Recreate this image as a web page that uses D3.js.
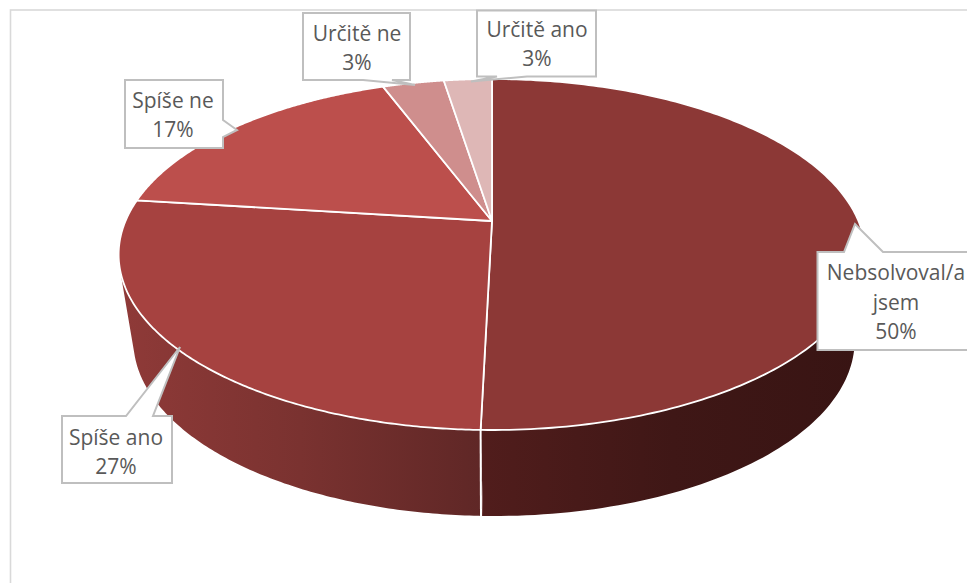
<!DOCTYPE html>
<html><head><meta charset="utf-8">
<script src="https://cdn.jsdelivr.net/npm/d3@7/dist/d3.min.js"></script>
<style>html,body{margin:0;padding:0;background:#fff;overflow:hidden}svg{display:block}</style>
</head><body>
<svg id="c" width="967" height="583"></svg>
<script>
const categories = ["Nebsolvoval/a jsem","Spíše ano","Spíše ne","Určitě ne","Určitě ano"];
const values = [50.4,26.6,17.3,3.2,2.5];
const topColors = ["#8C3836","#A64240","#BC4F4C","#CF8E8D","#DEB7B6"];
const wallStops = [["#511D1C","#3F1716","#381413"],["#8F3A38","#7A3230","#5F2726"],["#8F3A38","#8F3A38","#8F3A38"],["#999","#999","#999"],["#999","#999","#999"]];
const labelLines = [["Nebsolvoval/a","jsem"],["Spíše ano"],["Spíše ne"],["Určitě ne"],["Určitě ano"]];

// callout outlines and text anchors (layout only)
const callouts = [
 {pts:[[817.5,252],[844,252],[855,224],[883,252],[985,252],[985,350],[817.5,350]],tx:896,ty:280,lh:29.5},
 {pts:[[62,416],[126,416],[180,347],[153,416],[172,416],[172,483],[62,483]],tx:116,ty:445,lh:28.5},
 {pts:[[125,80],[223,80],[223,120],[237,130],[223,137],[223,148],[125,148]],tx:173,ty:108,lh:29},
 {pts:[[303,13],[410,13],[410,80],[392,80],[415,85],[363,80],[303,80]],tx:357,ty:41,lh:28.5},
 {pts:[[477,10.5],[596,10.5],[596,76.5],[527,76.5],[471,81.5],[497,76.5],[477,76.5]],tx:537,ty:37,lh:29}
];

const svg = d3.select("#c");
const C = -0.191;
const project = (ox,oy,d,a) => t => {
  const u = Math.sin(t), v = -Math.cos(t), w = 1 + C*v;
  return [ox + d*u/w, oy + a*v/w];
};
const topRim = project(492,221,366.5,169.1);
const botRim = project(494,307,354,169.1);

const pie = d3.pie().sort(null).value(d=>d);
const arcs = pie(values);

svg.append("rect").attr("x",10.5).attr("y",10).attr("width",1000).attr("height",700)
   .attr("fill","#fff").attr("stroke","#D9D9D9").attr("stroke-width",1.6);

const defs = svg.append("defs");
const samples = (a,n) => d3.range(n+1).map(i=>a.startAngle+(a.endAngle-a.startAngle)*i/n);

// walls
arcs.forEach((a,i)=>{
  const ths = samples(a,160);
  const xs = ths.flatMap(t=>[topRim(t)[0],botRim(t)[0]]);
  const [x0,x1] = d3.extent(xs);
  const g = defs.append("linearGradient").attr("id","w"+i).attr("gradientUnits","userSpaceOnUse")
    .attr("x1",x0).attr("x2",x1).attr("y1",0).attr("y2",0);
  wallStops[i].forEach((c,k)=>g.append("stop").attr("offset",k/2).attr("stop-color",c));
  let d = "";
  d3.pairs(ths).forEach(([p,q])=>{
    let poly = [topRim(p),topRim(q),botRim(q),botRim(p)];
    if (d3.polygonArea(poly)<0) poly.reverse();
    d += "M"+poly.join("L")+"Z";
  });
  svg.append("path").attr("d",d).attr("fill",`url(#w${i})`);
});
// wall separators
arcs.forEach(a=>{
  const p=topRim(a.endAngle), q=botRim(a.endAngle);
  if (a.endAngle>Math.PI && a.endAngle<Math.PI*1.2)
    svg.append("line").attr("x1",p[0]).attr("y1",p[1]).attr("x2",q[0]-2).attr("y2",q[1])
       .attr("stroke","#fff").attr("stroke-width",2);
});
// top faces
arcs.forEach((a,i)=>{
  const pts = samples(a,200).map(topRim);
  svg.append("path").attr("d","M492,221L"+pts.join("L")+"Z")
     .attr("fill",topColors[i]).attr("stroke","#fff").attr("stroke-width",1.8).attr("stroke-linejoin","round");
});
// labels
arcs.forEach((a,i)=>{
  const c = callouts[i];
  svg.append("polygon").attr("points",c.pts.join(" ")).attr("fill","#fff")
     .attr("stroke","#BFBFBF").attr("stroke-width",2);
  const lines = [...labelLines[i], Math.round(values[i])+"%"];
  const t = svg.append("text").attr("text-anchor","middle").attr("fill","#595959")
     .style("font-family","'Open Sans'").style("font-size","21px");
  lines.forEach((s,k)=>t.append("tspan").attr("x",c.tx).attr("y",c.ty+k*c.lh).text(s));
});
</script>
</body></html>
